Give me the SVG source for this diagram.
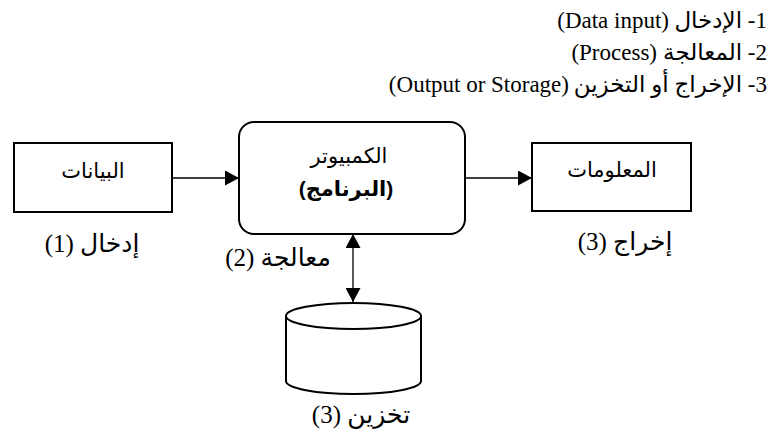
<svg xmlns="http://www.w3.org/2000/svg" width="776" height="436" viewBox="0 0 776 436">
  <defs>
    <style>
      .box { fill: #fff; stroke: #000; stroke-width: 2; }
      .link { fill: none; stroke: #000; stroke-width: 1.3; }
      .serif { font-family: "Liberation Serif", "DejaVu Sans", serif; fill: #000; }
      .sans { font-family: "Liberation Sans", "DejaVu Sans", sans-serif; fill: #000; }
      .rtl { direction: rtl; unicode-bidi: embed; }
    </style>
    <marker id="head" viewBox="0 0 14 15" refX="14" refY="7.5" markerWidth="14" markerHeight="15" markerUnits="userSpaceOnUse" orient="auto-start-reverse">
      <path d="M0,0 L14,7.5 L0,15 Z" fill="#000"/>
    </marker>
  </defs>

  <!-- legend lines, right aligned: Arabic part anchored at the right edge,
       Latin part set as its own run just left of it -->
  <g id="legend" class="serif" font-size="23">
    <text class="rtl" x="767" y="28" text-anchor="start">1- الإدخال</text>
    <text x="669" y="28" text-anchor="end">(Data input)</text>
    <text class="rtl" x="767" y="60" text-anchor="start">2- المعالجة</text>
    <text x="657" y="60" text-anchor="end">(Process)</text>
    <text class="rtl" x="767" y="92" text-anchor="start">3- الإخراج أو التخزين</text>
    <text x="569" y="92" text-anchor="end">(Output or Storage)</text>
  </g>

  <!-- connectors -->
  <g id="connectors">
    <line class="link" x1="172" y1="178" x2="239" y2="178" marker-end="url(#head)"/>
    <line class="link" x1="465" y1="178" x2="532" y2="178" marker-end="url(#head)"/>
    <line class="link" x1="353" y1="234" x2="353" y2="302" marker-start="url(#head)" marker-end="url(#head)"/>
  </g>

  <!-- input: data -->
  <g id="data">
    <rect class="box" x="14" y="143" width="158" height="69"/>
    <text class="sans rtl" x="93" y="178" font-size="21" text-anchor="middle">البيانات</text>
    <text class="serif rtl" x="92" y="252" font-size="25" text-anchor="middle">إدخال (1)</text>
  </g>

  <!-- computer / program -->
  <g id="computer">
    <rect class="box" x="239" y="122" width="226" height="112" rx="15" ry="15"/>
    <text class="sans rtl" x="349" y="163" font-size="21" text-anchor="middle">الكمبيوتر</text>
    <text class="sans rtl" x="346" y="196" font-size="21" font-weight="bold" text-anchor="middle">(البرنامج)</text>
    <text class="serif rtl" x="278" y="266" font-size="25" text-anchor="middle">معالجة (2)</text>
  </g>

  <!-- output: information -->
  <g id="information">
    <rect class="box" x="532" y="143" width="159" height="68"/>
    <text class="sans rtl" x="612" y="177" font-size="21" text-anchor="middle">المعلومات</text>
    <text class="serif rtl" x="625" y="250" font-size="25" text-anchor="middle">إخراج (3)</text>
  </g>

  <!-- storage cylinder -->
  <g id="storage">
    <path class="box" d="M286,316 A67.5,13 0 0 1 421,316 L421,381 A67.5,13 0 0 1 286,381 Z"/>
    <path class="box" d="M286,316 A67.5,13 0 0 0 421,316" fill="none"/>
    <text class="serif rtl" x="361" y="423" font-size="25" text-anchor="middle">تخزين (3)</text>
  </g>
</svg>
